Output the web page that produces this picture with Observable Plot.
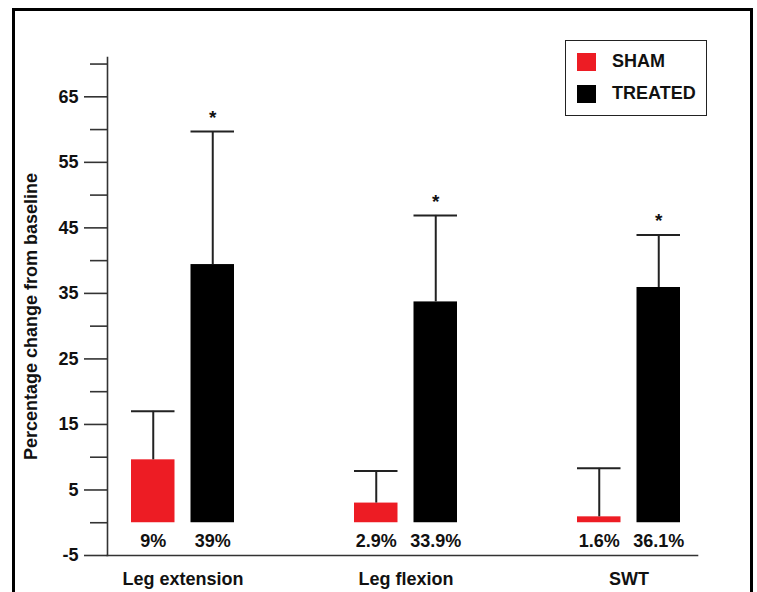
<!DOCTYPE html>
<html>
<head>
<meta charset="utf-8">
<script src="https://cdn.jsdelivr.net/npm/d3@7"></script>
<script src="https://cdn.jsdelivr.net/npm/@observablehq/plot@0.6"></script>
<style>
  html, body { margin: 0; padding: 0; background: #fff; overflow: hidden; }
  #wrap { position: relative; width: 757px; height: 592px; font-family: "Liberation Sans", Arial, sans-serif; }
  #border { position: absolute; left: 12px; top: 8px; width: 741px; height: 700px; box-sizing: border-box; border: 3.5px solid #000; pointer-events: none; }
  #legend { position: absolute; left: 565px; top: 40px; width: 142px; height: 76px; box-sizing: border-box; border: 1.5px solid #222; background: #fff; }
  .item { position: absolute; left: 11px; display: flex; align-items: center; font-weight: bold; font-size: 18px; color: #111; }
  .sw { width: 19px; height: 18px; margin-right: 16px; }
</style>
</head>
<body>
<div id="wrap">
  <div id="chart"></div>
  <div id="legend"></div>
  <div id="border"></div>
</div>
<script>
const categories = ["Leg extension", "Leg flexion", "SWT"];
const shamValues = [9.6, 3.0, 0.9];
const shamErrors = [7.4, 4.9, 7.4];
const treatedValues = [39.4, 33.7, 35.9];
const treatedErrors = [20.3, 13.2, 8.0];
const shamLabels = ["9%", "2.9%", "1.6%"];
const treatedLabels = ["39%", "33.9%", "36.1%"];
const significant = [true, true, true];
const groups = ["SHAM", "TREATED"];
const groupColors = ["#ed1c24", "#000000"];
const yMajorTicks = [-5, 5, 15, 25, 35, 45, 55, 65];
const yMinorTicks = [0, 10, 20, 30, 40, 50, 60, 70];
const yLabel = "Percentage change from baseline";

const sham = categories.map((c, i) => ({cat: c, value: shamValues[i], err: shamErrors[i], label: shamLabels[i]}));
const treated = categories.map((c, i) => ({cat: c, value: treatedValues[i], err: treatedErrors[i], label: treatedLabels[i], sig: significant[i]}));

const axisColor = "#333";
const shamInset = {insetLeft: 20, insetRight: 79.5};
const treatedInset = {insetLeft: 79.5, insetRight: 20};
const shamDx = -29.75, treatedDx = 29.75;

const chart = Plot.plot({
  width: 757,
  height: 592,
  marginLeft: 107,
  marginRight: 60,
  marginTop: 57,
  marginBottom: 37,
  style: {fontFamily: "'Liberation Sans', Arial, sans-serif", fontSize: "18px", fontWeight: "bold", color: "#111", background: "transparent"},
  x: {domain: categories, range: [111, 701], paddingInner: 0.357, paddingOuter: 0, axis: null},
  y: {domain: [-5, 71], axis: null},
  marks: [
    Plot.barY(sham, {x: "cat", y: "value", fill: groupColors[0], ...shamInset}),
    Plot.barY(treated, {x: "cat", y: "value", fill: groupColors[1], ...treatedInset}),
    Plot.ruleX(sham, {x: "cat", y1: "value", y2: d => d.value + d.err, dx: shamDx, stroke: "#222", strokeWidth: 2}),
    Plot.ruleX(treated, {x: "cat", y1: "value", y2: d => d.value + d.err, dx: treatedDx, stroke: "#222", strokeWidth: 2}),
    Plot.tickY(sham, {x: "cat", y: d => d.value + d.err, stroke: "#222", strokeWidth: 2, ...shamInset}),
    Plot.tickY(treated, {x: "cat", y: d => d.value + d.err, stroke: "#222", strokeWidth: 2, ...treatedInset}),
    Plot.text(sham, {x: "cat", y: d => 0, text: "label", dx: shamDx, dy: 18, fill: "#111"}),
    Plot.text(treated, {x: "cat", y: d => 0, text: "label", dx: treatedDx, dy: 18, fill: "#111"}),
    Plot.text(treated.filter(d => d.sig), {x: "cat", y: d => d.value + d.err, text: d => "*", dx: treatedDx, dy: -14, fontSize: 19, fill: "#111"}),
    Plot.axisY({ticks: yMajorTicks, tickSize: 23, tickPadding: 6, tickFormat: d => String(d), stroke: axisColor, strokeWidth: 1.6, label: null, fill: "#111"}),
    Plot.axisY({ticks: yMinorTicks, tickSize: 17, tickFormat: () => "", stroke: axisColor, strokeWidth: 1.6, label: null}),
    Plot.axisX({tickSize: 0, tickPadding: 17, label: null, fill: "#111"}),
    Plot.frame({anchor: "left", stroke: axisColor, strokeWidth: 1.6}),
    Plot.frame({anchor: "bottom", stroke: axisColor, strokeWidth: 1.6}),
    Plot.text([yLabel], {frameAnchor: "left", textAnchor: "middle", text: d => d, rotate: -90, dx: -76, dy: 10, fill: "#111"})
  ]
});
document.getElementById("chart").appendChild(chart);

const legend = document.getElementById("legend");
groups.forEach((g, i) => {
  const item = document.createElement("div");
  item.className = "item";
  item.style.top = (i === 0 ? 10 : 42) + "px";
  const sw = document.createElement("div");
  sw.className = "sw";
  sw.style.background = groupColors[i];
  const label = document.createElement("span");
  label.textContent = g;
  item.appendChild(sw);
  item.appendChild(label);
  legend.appendChild(item);
});
</script>
</body>
</html>
